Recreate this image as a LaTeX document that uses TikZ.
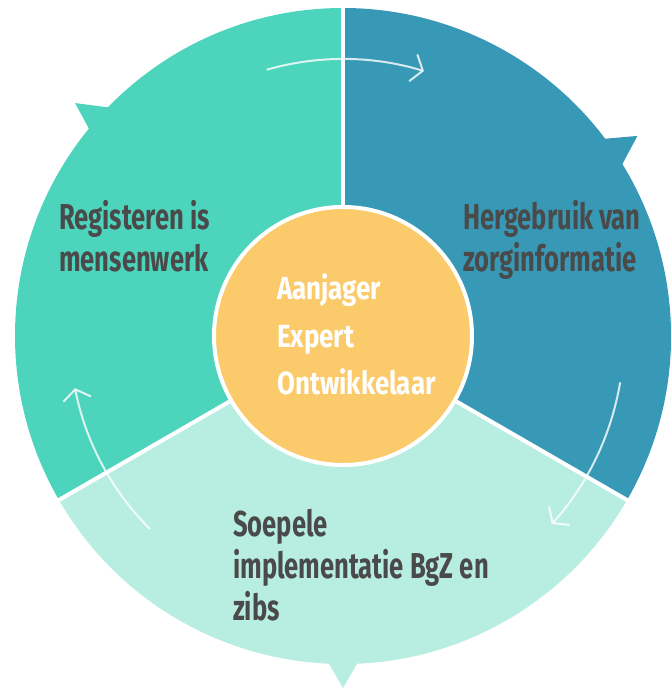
\documentclass[tikz,border=0pt]{standalone}
\usepackage{fontspec}
\usetikzlibrary{arrows.meta}
\newfontfamily\lblfont[FakeStretch=0.71]{Fira Sans}
\newfontfamily\ctrfont[FakeStretch=0.81]{Fira Sans}
\definecolor{tealseg}{HTML}{4DD4BD}
\definecolor{blueseg}{HTML}{3799B6}
\definecolor{mintseg}{HTML}{B8EEE2}
\definecolor{coreorange}{HTML}{FBCA6A}
\definecolor{textgray}{HTML}{4A4A4A}
\begin{document}
\begin{tikzpicture}[x=1pt,y=1pt,
  divider/.style={white,line width=4pt},
  flow/.style={white,opacity=0.8,line width=2pt,-{Straight Barb[length=10pt,width=28pt]}},
  lbl/.style={anchor=base west,inner sep=0pt,text=textgray,font=\lblfont\bfseries\fontsize{36}{42}\selectfont},
  ctr/.style={anchor=base west,inner sep=0pt,text=white,font=\ctrfont\bfseries\fontsize{32}{47.5}\selectfont}]
\useasboundingbox (0,0) rectangle (670,688);
\coordinate (C) at (343,352);
% segments
\fill[tealseg] (C) -- ([shift={(90:328)}]C) arc[start angle=90,end angle=210,radius=328] -- cycle;
\fill[blueseg] (C) -- ([shift={(-30:328)}]C) arc[start angle=-30,end angle=90,radius=328] -- cycle;
\fill[mintseg] (C) -- ([shift={(210:328)}]C) arc[start angle=210,end angle=330,radius=328] -- cycle;
% pointers
\fill[tealseg] ([shift={(135.4:325)}]C) -- ([shift={(139:355)}]C) -- ([shift={(141:325)}]C) -- cycle;
\fill[blueseg] ([shift={(31.3:325)}]C) -- ([shift={(34.2:356)}]C) -- ([shift={(37.3:325)}]C) -- cycle;
\fill[mintseg] ([shift={(267.2:325)}]C) -- ([shift={(270:352)}]C) -- ([shift={(272.8:325)}]C) -- cycle;
% dividers
\draw[divider] (C) -- ([shift={(90:329)}]C);
\draw[divider] (C) -- ([shift={(210:329)}]C);
\draw[divider] (C) -- ([shift={(330:329)}]C);
% cycle arrows
\draw[flow] ([shift={(106:277)}]C) arc[start angle=106,end angle=73,radius=277];
\draw[flow] ([shift={(-9.5:281)}]C) arc[start angle=-9.5,end angle=-42,radius=281];
\draw[flow] ([shift={(225:273)}]C) arc[start angle=225,end angle=191,radius=273];
% core
\node[circle,fill=coreorange,draw=white,line width=4pt,minimum size=258pt,inner sep=0pt] (core) at (C) {};
% labels
\node[lbl] (reg) at (59,458) {\begin{tabular}[t]{@{}l@{}}Registeren is\\mensenwerk\end{tabular}};
\node[lbl] (herg) at (463,458) {\begin{tabular}[t]{@{}l@{}}Hergebruik van\\zorginformatie\end{tabular}};
\node[lbl] (soep) at (233,151) {\begin{tabular}[t]{@{}l@{}}Soepele\\implementatie BgZ en\\zibs\end{tabular}};
\node[ctr] (roles) at (277,388) {\begin{tabular}[t]{@{}l@{}}Aanjager\\Expert\\Ontwikkelaar\end{tabular}};
\end{tikzpicture}
\end{document}
